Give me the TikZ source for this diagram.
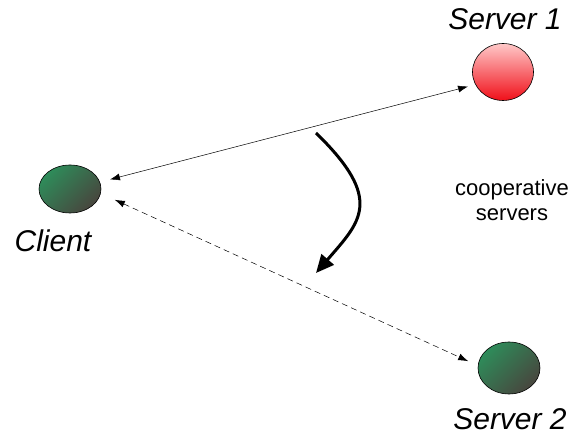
\documentclass[tikz,border=0pt]{standalone}
\usepackage{fontspec}
\setmainfont{Liberation Sans}
\usetikzlibrary{arrows.meta,shapes.geometric}
\definecolor{gA}{RGB}{46,140,90}
\definecolor{gB}{RGB}{72,70,62}
\definecolor{rA}{RGB}{255,200,200}
\definecolor{rB}{RGB}{240,15,25}
\tikzset{
  host/.style={ellipse,draw=black,line width=0.6pt,inner sep=0pt},
  greenhost/.style={host,top color=gA,bottom color=gB,shading angle=45},
  redhost/.style={host,top color=rA,bottom color=rB},
  lbl/.style={font=\itshape\fontsize{30}{34}\selectfont,inner sep=0pt},
  small/.style={font=\fontsize{22}{25}\selectfont,align=center,inner sep=0pt},
  link/.style={line width=0.5pt,{Latex[length=10pt,width=7pt]}-{Latex[length=10pt,width=7pt]},shorten <=2pt,shorten >=2pt}
}
\begin{document}
\begin{tikzpicture}[x=1pt,y=-1pt]
\useasboundingbox (0,0) rectangle (576,435);
\node[greenhost,minimum width=62pt,minimum height=48pt] (client) at (70,189) {};
\node[redhost,minimum width=61pt,minimum height=57pt] (s1) at (503,72) {};
\node[greenhost,minimum width=62pt,minimum height=52pt] (s2) at (509,368) {};
\node[lbl] (lc) at (53,241) {Client};
\node[lbl] (l1) at (505,19) {Server 1};
\node[lbl] (l2) at (510,419) {Server 2};
\node[small] (coop) at (512,200) {cooperative\\servers};
\coordinate (a1) at (108,180);
\coordinate (a2) at (470,86);
\coordinate (b1) at (113,199);
\coordinate (b2) at (470,362);
\draw[link] (a1) -- (a2);
\draw[link,dashed,dash pattern=on 6pt off 4pt] (b1) -- (b2);
\coordinate (c1) at (316,133);
\coordinate (c2) at (316,273);
\draw[line width=3pt,-{Triangle[length=18pt,width=16pt]}] (c1) .. controls (385,200) and (360,222) .. (c2);
\end{tikzpicture}
\end{document}
